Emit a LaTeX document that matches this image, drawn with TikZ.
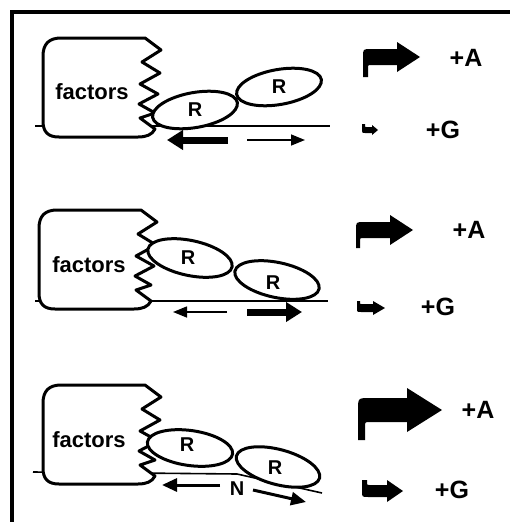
\documentclass[tikz,border=0pt]{standalone}
\usepackage{fontspec}
\setmainfont{Liberation Sans}
\usetikzlibrary{shapes.geometric,arrows.meta}

\tikzset{
  frameline/.style={line width=3.5pt},
  blockline/.style={draw=black, fill=white, line width=3pt, line join=round},
  dnaline/.style={line width=1.6pt},
  rsub/.style={ellipse, draw=black, fill=white, line width=3pt, inner sep=0pt,
               minimum width=86pt, minimum height=35pt},
  rlabel/.style={font=\bfseries\fontsize{20}{20}\selectfont, inner sep=0pt},
  flabel/.style={font=\bfseries\fontsize{22}{22}\selectfont, inner sep=0pt},
  plabel/.style={font=\bfseries\fontsize{25}{25}\selectfont, inner sep=0pt},
  thickarr/.style={line width=7pt, -{Triangle[length=16pt,width=19pt]}},
  thinarr/.style={line width=1.5pt, -{Triangle[length=14pt,width=11pt]}},
  midarr/.style={line width=3pt, -{Triangle[length=15pt,width=13pt]}},
}

% factor complex: rounded box with a jagged right edge; #1,#2 = top-left corner
\newcommand\factorsblock[2]{%
  \begin{scope}[shift={(#1,#2)}]
    \draw[blockline] (50,0) -- (102,0) -- (118,12) -- (99,24) -- (117,35)
      -- (97,46) -- (115,56) -- (96,66) -- (112,75) -- (97,80) -- (112,91)
      .. controls (109,97) and (103,99) .. (95,99) -- (16,99)
      .. controls (5,99) and (0,94) .. (0,83) -- (0,18)
      .. controls (0,6) and (6,0) .. (18,0) -- cycle;
  \end{scope}}

% bent promoter arrow, stub pointing down
% #1 left x, #2 centre y, #3 half shaft, #4 head start x, #5 half head,
% #6 tip x, #7 stub length, #8 stub width
\newcommand\promoterarrow[8]{%
  \fill ({#1},{#2+#3+#7}) -- ({#1},{#2})
    .. controls ({#1},{#2-#3}) .. ({#1+#3},{#2-#3})
    -- ({#4},{#2-#3}) -- ({#4},{#2-#5}) -- ({#6},{#2}) -- ({#4},{#2+#5})
    -- ({#4},{#2+#3}) -- ({#1+1.7*#8},{#2+#3})
    .. controls ({#1+#8},{#2+#3}) .. ({#1+#8},{#2+#3+0.7*#8})
    -- ({#1+#8},{#2+#3+#7}) -- cycle;}

% small hooked arrow, stub pointing up (same arguments)
\newcommand\hookarrow[8]{%
  \fill ({#1},{#2-#3-#7}) -- ({#1},{#2})
    .. controls ({#1},{#2+#3}) .. ({#1+#3},{#2+#3})
    -- ({#4},{#2+#3}) -- ({#4},{#2+#5}) -- ({#6},{#2}) -- ({#4},{#2-#5})
    -- ({#4},{#2-#3}) -- ({#1+#8+0.5*#7},{#2-#3})
    .. controls ({#1+#8},{#2-#3}) .. ({#1+#8},{#2-#3-0.5*#7})
    -- ({#1+#8},{#2-#3-#7}) -- cycle;}

\begin{document}
\begin{tikzpicture}[x=1pt,y=-1pt]
\useasboundingbox (0,0) rectangle (510,522);

% frame
\coordinate (fr1) at (12,522);
\coordinate (fr2) at (12,12);
\coordinate (fr3) at (510,12);
\draw[frameline] (fr1) -- (fr2) -- (fr3);

% ---------- panel 1 ----------
\coordinate (d1a) at (35,126);
\coordinate (d1b) at (330,126);
\draw[dnaline] (d1a) -- (d1b);
\factorsblock{43}{38}
\node[flabel] (f1) at (92,92) {factors};
\node[rsub, rotate=10] (r11) at (195,110) {};
\node[rsub, rotate=10] (r12) at (279,87) {};
\node[rlabel] (r11t) at (r11.center) {R};
\node[rlabel] (r12t) at (r12.center) {R};
\coordinate (a11s) at (228,140);
\coordinate (a11e) at (167,140);
\coordinate (a12s) at (247,140);
\coordinate (a12e) at (305,140);
\draw[thickarr] (a11s) -- (a11e);
\draw[thinarr] (a12s) -- (a12e);
\promoterarrow{363}{57}{8}{397}{15}{420}{12}{5}
\hookarrow{362}{130}{3}{372}{5}{378}{3}{3}
\node[plabel] (pa1) at (466,58) {+A};
\node[plabel] (pg1) at (443,130) {+G};

% ---------- panel 2 ----------
\coordinate (d2a) at (35,301);
\coordinate (d2b) at (328,301);
\draw[dnaline] (d2a) -- (d2b);
\factorsblock{39}{210}
\node[flabel] (f2) at (89,265) {factors};
\node[rsub, rotate=-12] (r21) at (190,258) {};
\node[rsub, rotate=-12] (r22) at (277,280) {};
\node[rlabel] (r21t) at (188,258) {R};
\node[rlabel] (r22t) at (273,283) {R};
\coordinate (a21s) at (227,312);
\coordinate (a21e) at (173,312);
\coordinate (a22s) at (247,312);
\coordinate (a22e) at (302,312);
\draw[thinarr] (a21s) -- (a21e);
\draw[thickarr] (a22s) -- (a22e);
\promoterarrow{356}{230}{8}{390}{15}{413}{10}{4}
\hookarrow{357}{308}{4}{373}{7}{385}{3}{3}
\node[plabel] (pa2) at (469,230) {+A};
\node[plabel] (pg2) at (438,307) {+G};

% ---------- panel 3 ----------
\coordinate (d3a) at (33,472);
\coordinate (d3b) at (237,474);
\coordinate (d3c) at (322,493);
\draw[dnaline] (d3a) -- (d3b) -- (d3c);
\factorsblock{43}{385}
\node[flabel] (f3) at (89,440) {factors};
\node[rsub, rotate=-8] (r31) at (190,448) {};
\node[rsub, rotate=-15] (r32) at (278,467) {};
\node[rlabel] (r31t) at (187,445) {R};
\node[rlabel] (r32t) at (275,468) {R};
\coordinate (a31s) at (220,485);
\coordinate (a31e) at (162,485);
\coordinate (a32s) at (253,490);
\coordinate (a32e) at (306,502);
\draw[midarr] (a31s) -- (a31e);
\node[rlabel] (n3) at (237,489) {N};
\draw[midarr] (a32s) -- (a32e);
\promoterarrow{358}{410}{12}{407}{22}{442}{18}{7}
\hookarrow{362}{491}{6}{387}{11}{403}{5}{5}
\node[plabel] (pa3) at (478,410) {+A};
\node[plabel] (pg3) at (452,490) {+G};
\end{tikzpicture}
\end{document}
